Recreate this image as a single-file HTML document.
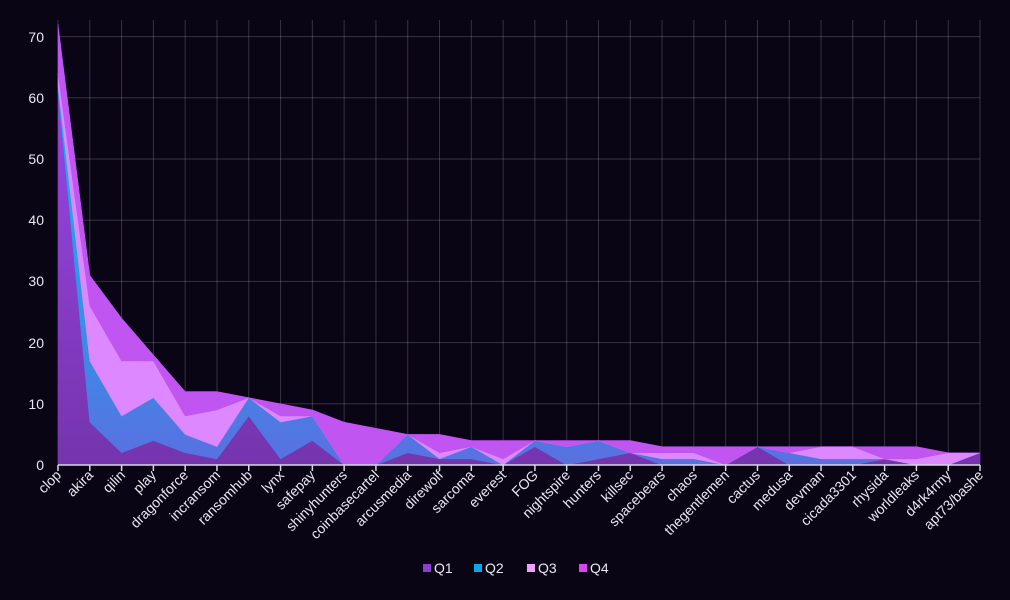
<!DOCTYPE html>
<html><head><meta charset="utf-8"><style>
html,body{margin:0;padding:0;background:#0a0515;}
svg{display:block;font-family:"Liberation Sans",sans-serif;}
</style></head><body>
<svg id="c" width="1010" height="600" viewBox="0 0 1010 600" xmlns="http://www.w3.org/2000/svg">
<rect width="1010" height="600" fill="#0a0515"/>
<g id="grid" stroke="rgba(255,255,255,0.18)" stroke-width="1"></g>
<g id="areas"></g>
<g id="axis" stroke="#d8d8e0" stroke-width="1.5"></g>
<g fill="#e8e8f0" font-size="14" text-anchor="end">
<text x="44" y="470">0</text><text x="44" y="409">10</text><text x="44" y="348">20</text><text x="44" y="286">30</text><text x="44" y="225">40</text><text x="44" y="164">50</text><text x="44" y="103">60</text><text x="44" y="42">70</text>
</g>
<g fill="#e8e8f0" font-size="14" text-anchor="end">
<text transform="translate(62,476) rotate(-45)">clop</text>
<text transform="translate(94,476) rotate(-45)">akira</text>
<text transform="translate(126,476) rotate(-45)">qilin</text>
<text transform="translate(157,476) rotate(-45)">play</text>
<text transform="translate(189,476) rotate(-45)">dragonforce</text>
<text transform="translate(221,476) rotate(-45)">incransom</text>
<text transform="translate(253,476) rotate(-45)">ransomhub</text>
<text transform="translate(285,476) rotate(-45)">lynx</text>
<text transform="translate(316,476) rotate(-45)">safepay</text>
<text transform="translate(348,476) rotate(-45)">shinyhunters</text>
<text transform="translate(380,476) rotate(-45)">coinbasecartel</text>
<text transform="translate(412,476) rotate(-45)">arcusmedia</text>
<text transform="translate(444,476) rotate(-45)">direwolf</text>
<text transform="translate(475,476) rotate(-45)">sarcoma</text>
<text transform="translate(507,476) rotate(-45)">everest</text>
<text transform="translate(539,476) rotate(-45)">FOG</text>
<text transform="translate(571,476) rotate(-45)">nightspire</text>
<text transform="translate(602,476) rotate(-45)">hunters</text>
<text transform="translate(634,476) rotate(-45)">killsec</text>
<text transform="translate(666,476) rotate(-45)">spacebears</text>
<text transform="translate(698,476) rotate(-45)">chaos</text>
<text transform="translate(730,476) rotate(-45)">thegentlemen</text>
<text transform="translate(761,476) rotate(-45)">cactus</text>
<text transform="translate(793,476) rotate(-45)">medusa</text>
<text transform="translate(825,476) rotate(-45)">devman</text>
<text transform="translate(857,476) rotate(-45)">cicada3301</text>
<text transform="translate(889,476) rotate(-45)">rhysida</text>
<text transform="translate(920,476) rotate(-45)">worldleaks</text>
<text transform="translate(952,476) rotate(-45)">d4rk4rmy</text>
<text transform="translate(984,476) rotate(-45)">apt73/bashe</text>
</g>
<g font-size="14" fill="#e8e8f0">
<rect x="423" y="564" width="8" height="8" fill="#8a3fd0"/><text x="434" y="573">Q1</text>
<rect x="474" y="564" width="8" height="8" fill="#0ea5e9"/><text x="485" y="573">Q2</text>
<rect x="527" y="564" width="8" height="8" fill="#f0a0ff"/><text x="538" y="573">Q3</text>
<rect x="579" y="564" width="8" height="8" fill="#d946ef"/><text x="590" y="573">Q4</text>
</g>
</svg>
<script>
var d=[[61,1,2,8],[7,10,9,5],[2,6,9,7],[4,7,6,1],[2,3,3,4],[1,2,6,3],[8,3,0,0],[1,6,1,2],[4,4,0,1],[0,0,0,7],[0,0,0,6],[2,3,0,0],[1,0,1,3],[1,2,0,1],[0,0,1,3],[3,1,0,0],[0,3,0,1],[1,3,0,0],[2,0,0,2],[0,1,1,1],[0,1,1,1],[0,0,0,3],[3,0,0,0],[0,2,0,1],[0,1,2,0],[0,1,2,0],[1,0,0,2],[0,0,1,2],[0,0,2,0],[2,0,0,0]];
var ns="http://www.w3.org/2000/svg",n=d.length;
function X(i){return 58+i*(922/29);}function Y(v){return 465-v*6.12;}
var g=document.getElementById('grid'),a=document.getElementById('areas'),ax=document.getElementById('axis');
function el(p,t,at){var e=document.createElementNS(ns,t);for(var k in at)e.setAttribute(k,at[k]);p.appendChild(e);return e;}
for(var i=0;i<n;i++){el(g,'line',{x1:X(i),x2:X(i),y1:20,y2:465});el(ax,'line',{x1:X(i),x2:X(i),y1:465,y2:471});}
for(var v=10;v<=70;v+=10)el(g,'line',{x1:58,x2:980,y1:Y(v),y2:Y(v)});
el(ax,'line',{x1:58,x2:980,y1:465,y2:465});
var cols=['#7a35b2','#3a8ae8','#dd88ff','#c055f2'];
var defs=el(a,'defs',{});
var lg=el(defs,'linearGradient',{id:'g1',x1:0,y1:30,x2:0,y2:465,gradientUnits:'userSpaceOnUse'});
el(lg,'stop',{offset:0,'stop-color':'#a048ea'});el(lg,'stop',{offset:1,'stop-color':'#7534ae'});
var lg2=el(defs,'linearGradient',{id:'g2',x1:0,y1:100,x2:0,y2:465,gradientUnits:'userSpaceOnUse'});
el(lg2,'stop',{offset:0,'stop-color':'#00bff0'});el(lg2,'stop',{offset:0.6,'stop-color':'#3590e8'});el(lg2,'stop',{offset:1,'stop-color':'#5a70e0'});
var fills=['url(#g1)','url(#g2)','#dd88ff','#c055f2'];
var cum=d.map(function(){return 0;});
for(var s=0;s<4;s++){
 var lo=cum.slice(),hi=cum.map(function(c,i){return c+d[i][s];});
 var pts=[];for(var i=0;i<n;i++)pts.push(X(i)+','+Y(hi[i]));
 for(var i=n-1;i>=0;i--)pts.push(X(i)+','+Y(lo[i]));
 el(a,'polygon',{points:pts.join(' '),fill:fills[s],stroke:cols[s],'stroke-width':0.5});
 cum=hi;
}
</script>
</body></html>
